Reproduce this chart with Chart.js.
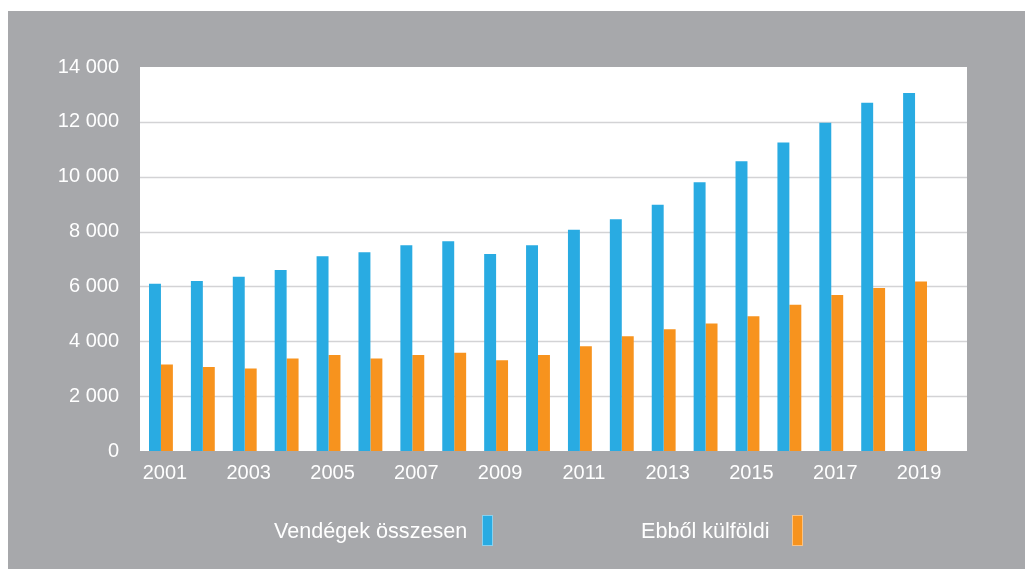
<!DOCTYPE html>
<html>
<head>
<meta charset="utf-8">
<script src="https://cdn.jsdelivr.net/npm/chart.js@4.4.1/dist/chart.umd.min.js"></script>
<style>
  html, body { margin: 0; padding: 0; background: #fff; }
  #wrap {
    position: absolute; left: 8px; top: 11px; width: 1017px; height: 558px;
    background: #a7a8ab; font-family: "Liberation Sans", Arial, sans-serif;
  }
  #chart { position: absolute; left: 0; top: 0; }
  #legend { position: absolute; left: 0; top: 503px; width: 1017px; height: 34px; color: #fff; font-size: 21.6px; }
  #legend .item { position: absolute; top: 0; display: flex; align-items: center; height: 33px; }
  #legend .item:nth-child(1) { left: 266px; }
  #legend .item:nth-child(2) { left: 633px; }
  #legend .box { display: inline-block; width: 9px; height: 29px; margin-left: 15px; }
  #legend .item:nth-child(2) .box { margin-left: 23px; }
</style>
</head>
<body>
<div id="wrap">
  <canvas id="chart" width="1017" height="558"></canvas>
  <div id="legend"></div>
</div>
<script>
// Vendégek száma (ezer fő), 2001–2019
const years = ['2001', '2002', '2003', '2004', '2005', '2006', '2007', '2008', '2009', '2010',
               '2011', '2012', '2013', '2014', '2015', '2016', '2017', '2018', '2019'];
const osszesen = [6100, 6200, 6350, 6600, 7100, 7250, 7500, 7650, 7180, 7500,
                  8070, 8450, 8980, 9800, 10560, 11250, 11970, 12700, 13050];
const kulfoldi = [3150, 3060, 3010, 3370, 3500, 3370, 3500, 3580, 3310, 3500,
                  3820, 4180, 4440, 4650, 4910, 5330, 5690, 5940, 6180];
const yTicks = [0, 2000, 4000, 6000, 8000, 10000, 12000, 14000];

const colors = { blue: '#29abe2', orange: '#f7931e' };

// white plot box + grid lines reaching past the last category
const plotBox = {
    id: 'plotBox',
    beforeDatasetsDraw(chart) {
        const { ctx, chartArea, scales } = chart;
        const right = chartArea.right + 31;
        ctx.save();
        ctx.fillStyle = '#fff';
        ctx.fillRect(chartArea.left, chartArea.top, right - chartArea.left, chartArea.bottom - chartArea.top);
        ctx.strokeStyle = '#d3d3d5';
        ctx.lineWidth = 1.5;
        yTicks.forEach(v => {
            if (v === 0 || v === 14000) return;
            const y = Math.round(scales.y.getPixelForValue(v)) + 0.5;
            ctx.beginPath();
            ctx.moveTo(chartArea.left, y);
            ctx.lineTo(right, y);
            ctx.stroke();
        });
        ctx.restore();
    }
};

const chart = new Chart(document.getElementById('chart').getContext('2d'), {
    type: 'bar',
    data: {
        labels: years,
        datasets: [{
            label: 'Vendégek összesen',
            data: osszesen,
            backgroundColor: colors.blue,
            categoryPercentage: 0.57,
            barPercentage: 1.0
        }, {
            label: 'Ebből külföldi',
            data: kulfoldi,
            backgroundColor: colors.orange,
            categoryPercentage: 0.57,
            barPercentage: 1.0
        }]
    },
    options: {
        responsive: false,
        animation: false,
        layout: { padding: { top: 56, right: 89, left: 0, bottom: 0 } },
        plugins: {
            legend: { display: false },
            tooltip: { enabled: false }
        },
        scales: {
            x: {
                grid: { display: false, drawTicks: false },
                border: { display: false },
                ticks: {
                    color: '#fff',
                    font: { family: 'Liberation Sans', size: 20 },
                    padding: 10,
                    labelOffset: 4,
                    autoSkip: false,
                    maxRotation: 0,
                    callback: (v, i) => (i % 2 === 0 ? years[i] : '')
                },
                afterFit(scale) { scale.height = 118; }
            },
            y: {
                min: 0,
                max: 14000,
                grid: { display: false, drawTicks: false },
                border: { display: false },
                afterBuildTicks(scale) { scale.ticks = yTicks.map(v => ({ value: v })); },
                ticks: {
                    color: '#fff',
                    font: { family: 'Liberation Sans', size: 20 },
                    padding: 21,
                    callback: v => (v === 0 ? '0' : (v / 1000) + ' 000')
                },
                afterFit(scale) { scale.width = 132; }
            }
        }
    },
    plugins: [plotBox]
});

// legend: text first, then a tall colour box
const legend = document.getElementById('legend');
chart.data.datasets.forEach(ds => {
    const item = document.createElement('span');
    item.className = 'item';
    const txt = document.createElement('span');
    txt.textContent = ds.label;
    const box = document.createElement('span');
    box.className = 'box';
    box.style.background = ds.backgroundColor;
    box.style.border = '1px solid rgba(255,255,255,0.45)';
    item.appendChild(txt);
    item.appendChild(box);
    legend.appendChild(item);
});
</script>
</body>
</html>
